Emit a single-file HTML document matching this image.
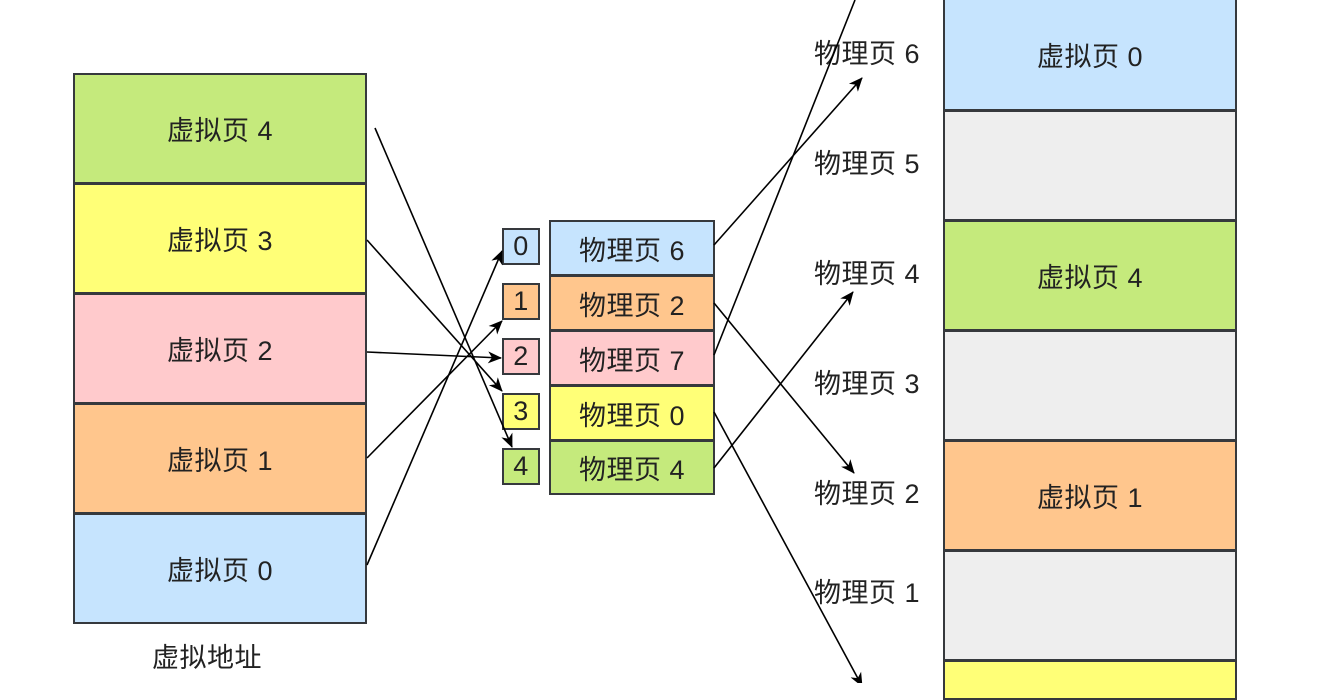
<!DOCTYPE html>
<html><head><meta charset="utf-8"><style>
body{margin:0;width:1326px;height:683px;overflow:hidden;background:#fff;font-family:"Liberation Sans","Noto Sans CJK SC",sans-serif;}
.b{position:absolute;box-sizing:border-box;border:2px solid #36393d;display:flex;align-items:center;justify-content:center;font-size:27px;color:#222;letter-spacing:0.5px;}
.t{position:absolute;font-size:27px;color:#222;letter-spacing:0.5px;line-height:30px;}
</style></head><body>
<div class="b" style="left:73px;top:73px;width:294px;height:111px;background:#c5ea7c">虚拟页 4</div>
<div class="b" style="left:73px;top:183px;width:294px;height:111px;background:#ffff77">虚拟页 3</div>
<div class="b" style="left:73px;top:293px;width:294px;height:111px;background:#ffcacc">虚拟页 2</div>
<div class="b" style="left:73px;top:403px;width:294px;height:111px;background:#ffc68d">虚拟页 1</div>
<div class="b" style="left:73px;top:513px;width:294px;height:111px;background:#c6e4fe">虚拟页 0</div>
<div class="t" style="left:152px;top:643px">虚拟地址</div>

<div class="b" style="left:502px;top:228px;width:38px;height:37px;background:#c6e4fe">0</div>
<div class="b" style="left:502px;top:283px;width:38px;height:37px;background:#ffc68d">1</div>
<div class="b" style="left:502px;top:338px;width:38px;height:37px;background:#ffcacc">2</div>
<div class="b" style="left:502px;top:393px;width:38px;height:37px;background:#ffff77">3</div>
<div class="b" style="left:502px;top:448px;width:38px;height:37px;background:#c5ea7c">4</div>

<div class="b" style="left:549px;top:220px;width:166px;height:56px;background:#c6e4fe">物理页 6</div>
<div class="b" style="left:549px;top:275px;width:166px;height:56px;background:#ffc68d">物理页 2</div>
<div class="b" style="left:549px;top:330px;width:166px;height:56px;background:#ffcacc">物理页 7</div>
<div class="b" style="left:549px;top:385px;width:166px;height:56px;background:#ffff77">物理页 0</div>
<div class="b" style="left:549px;top:440px;width:166px;height:55px;background:#c5ea7c">物理页 4</div>

<div class="b" style="left:943px;top:-2px;width:294px;height:113px;background:#c6e4fe">虚拟页 0</div>
<div class="b" style="left:943px;top:110px;width:294px;height:111px;background:#eeeeee"></div>
<div class="b" style="left:943px;top:220px;width:294px;height:111px;background:#c5ea7c">虚拟页 4</div>
<div class="b" style="left:943px;top:330px;width:294px;height:111px;background:#eeeeee"></div>
<div class="b" style="left:943px;top:440px;width:294px;height:111px;background:#ffc68d">虚拟页 1</div>
<div class="b" style="left:943px;top:550px;width:294px;height:111px;background:#eeeeee"></div>
<div class="b" style="left:943px;top:660px;width:294px;height:40px;background:#ffff77"></div>

<div class="t" style="left:814px;top:39px">物理页 6</div>
<div class="t" style="left:814px;top:149px">物理页 5</div>
<div class="t" style="left:814px;top:259px">物理页 4</div>
<div class="t" style="left:814px;top:369px">物理页 3</div>
<div class="t" style="left:814px;top:479px">物理页 2</div>
<div class="t" style="left:814px;top:578px">物理页 1</div>

<svg width="1326" height="683" style="position:absolute;left:0;top:0">
<defs><marker id="a" markerWidth="14" markerHeight="14" refX="13" refY="7" orient="auto" markerUnits="userSpaceOnUse"><path d="M0,1 L14,7 L0,13 L4,7 z" fill="#000"/></marker></defs>
<g stroke="#000" stroke-width="1.6" fill="none">
<line x1="375" y1="128" x2="512" y2="447" marker-end="url(#a)"/>
<line x1="367" y1="240" x2="502" y2="391" marker-end="url(#a)"/>
<line x1="367" y1="352" x2="501" y2="358" marker-end="url(#a)"/>
<line x1="367" y1="458" x2="502" y2="321" marker-end="url(#a)"/>
<line x1="367" y1="565" x2="502" y2="251" marker-end="url(#a)"/>
<line x1="714" y1="245" x2="862" y2="78" marker-end="url(#a)"/>
<line x1="714" y1="303" x2="854" y2="473" marker-end="url(#a)"/>
<line x1="714" y1="355" x2="855" y2="0"/>
<line x1="714" y1="412" x2="862" y2="686" marker-end="url(#a)"/>
<line x1="714" y1="468" x2="853" y2="292" marker-end="url(#a)"/>
</g></svg>
</body></html>
